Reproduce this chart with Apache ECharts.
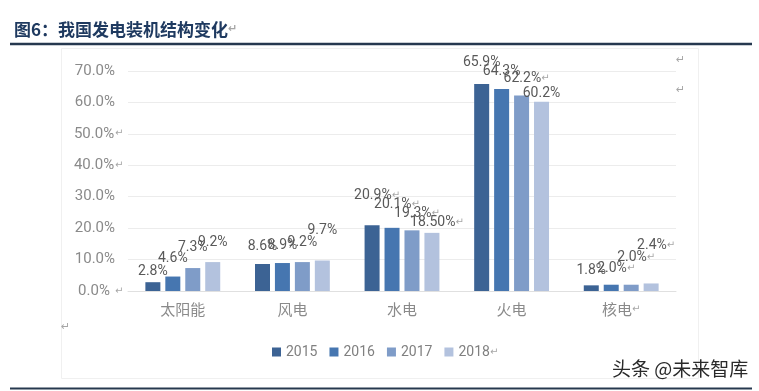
<!DOCTYPE html>
<html><head><meta charset="utf-8">
<script src="https://cdn.jsdelivr.net/npm/echarts@6/dist/echarts.min.js"></script>
<style>html,body{margin:0;padding:0;background:#fff}#c{width:759px;height:391px}</style>
</head><body><div id="c"></div>
<script>
const categories = ['太阳能', '风电', '水电', '火电', '核电'];
const years = ['2015', '2016', '2017', '2018'];
const v2015 = [2.8, 8.6, 20.9, 65.9, 1.8];
const v2016 = [4.6, 8.9, 20.1, 64.3, 2.0];
const v2017 = [7.3, 9.2, 19.3, 62.2, 2.0];
const v2018 = [9.2, 9.7, 18.5, 60.2, 2.4];
const t2015 = ['2.8%', '8.6%', '20.9%↵', '65.9%', '1.8%'];
const t2016 = ['4.6%', '8.9%', '20.1%↵', '64.3%', '2.0%↵'];
const t2017 = ['7.3%', '9.2%', '19.3%↵', '62.2%↵', '2.0%↵'];
const t2018 = ['9.2%', '9.7%', '18.50%↵', '60.2%', '2.4%↵'];
const yTicks = ['0.0%↵', '10.0%', '20.0%', '30.0%', '40.0%↵', '50.0%↵', '60.0%', '70.0%'];

// label lift (style only)
const lift = [
  [4, 10, 23, 14, 8],
  [11, 11, 16, 10, 9],
  [14, 13, 10, 10, 20],
  [13, 23, 3, 1, 31]
];
const colors = ['#3c6394', '#4676b0', '#7f9cc8', '#b3c2de'];
const values = [v2015, v2016, v2017, v2018];
const texts = [t2015, t2016, t2017, t2018];

function rich(s) {
  if (s.endsWith('↵')) return '{n|' + s.slice(0, -1) + '}{a|↵}';
  return '{n|' + s + '}';
}

const series = years.map((y, si) => ({
  name: y,
  type: 'bar',
  barWidth: 15,
  barGap: '33%',
  itemStyle: { color: colors[si] },
  data: values[si].map((v, ci) => {
    const s = texts[si][ci];
    return {
      value: v,
      label: {
        show: true,
        position: 'top',
        distance: lift[si][ci],
        offset: [s.endsWith('↵') ? 5 : 0, 0],
        formatter: rich(s)
      }
    };
  }),
  label: {
    rich: {
      n: { fontFamily: 'Roboto', fontSize: 14, color: '#595959', lineHeight: 14 },
      a: { fontFamily: 'DejaVu Sans', fontSize: 10, color: '#a6a6a6', lineHeight: 14 }
    }
  }
}));

const chart = echarts.init(document.getElementById('c'), null, { renderer: 'canvas' });
chart.setOption({
  animation: false,
  backgroundColor: '#fff',
  title: {
    left: 9, top: 16,
    text: '{t|图6：我国发电装机结构变化}{a|↵}',
    textStyle: {
      rich: {
        t: { fontFamily: 'Noto Sans CJK SC', fontWeight: 'bold', fontSize: 17, color: '#1f3a60' },
        a: { fontFamily: 'DejaVu Sans', fontSize: 11, color: '#a6a6a6' }
      }
    }
  },
  grid: { left: 128, right: 83, top: 71, bottom: 100 },
  legend: {
    left: 267, top: 340,
    itemWidth: 9, itemHeight: 9, itemGap: 12,
    icon: 'rect',
    data: years,
    formatter: n => n === '2018' ? '{n|' + n + '}{a|↵}' : '{n|' + n + '}',
    textStyle: {
      rich: {
        n: { fontFamily: 'Roboto', fontSize: 14, color: '#808080' },
        a: { fontFamily: 'DejaVu Sans', fontSize: 10, color: '#a6a6a6' }
      }
    }
  },
  xAxis: {
    type: 'category',
    data: categories,
    axisTick: { show: false },
    axisLine: { lineStyle: { color: '#e0e0e0' } },
    axisLabel: {
      margin: 11,
      formatter: v => v === '核电' ? '{c|' + v + '}{a|↵}' : '{c|' + v + '}',
      rich: {
        c: { fontFamily: 'Noto Sans CJK SC', fontSize: 15, color: '#8a8a8a' },
        a: { fontFamily: 'DejaVu Sans', fontSize: 10, color: '#a6a6a6' }
      }
    }
  },
  yAxis: {
    type: 'value',
    min: 0, max: 70, interval: 10,
    axisLine: { show: false },
    axisTick: { show: false },
    splitLine: { lineStyle: { color: '#ececec' } },
    axisLabel: {
      align: 'left',
      margin: 55,
      formatter: v => rich(yTicks[Math.round(v / 10)]),
      rich: {
        n: { fontFamily: 'Roboto', fontSize: 15, color: '#8a8a8a', width: 42, align: 'right' },
        a: { fontFamily: 'DejaVu Sans', fontSize: 10, color: '#a6a6a6' }
      }
    }
  },
  series: series,
  graphic: [
    { type: 'rect', z: -1, shape: { x: 61.5, y: 48.5, width: 637, height: 330 }, style: { fill: 'none', stroke: '#f0f0f0', lineWidth: 1 } },
    { type: 'line', shape: { x1: 10, y1: 44, x2: 752, y2: 44 }, style: { stroke: '#26384f', lineWidth: 2.5 } },
    { type: 'line', shape: { x1: 10, y1: 388.5, x2: 752, y2: 388.5 }, style: { stroke: '#26384f', lineWidth: 2 } },
    { type: 'text', left: 676, top: 55, style: { text: '↵', fontFamily: 'DejaVu Sans', fontSize: 11, fill: '#a6a6a6' } },
    { type: 'text', left: 676, top: 85, style: { text: '↵', fontFamily: 'DejaVu Sans', fontSize: 11, fill: '#a6a6a6' } },
    { type: 'text', left: 61, top: 322, style: { text: '↵', fontFamily: 'DejaVu Sans', fontSize: 11, fill: '#a6a6a6' } },
    { type: 'text', left: 612, top: 359, style: { text: '头条 @未来智库', fontFamily: 'Noto Sans CJK SC', fontSize: 19, fill: '#2a2a2a' } }
  ]
});
</script></body></html>
